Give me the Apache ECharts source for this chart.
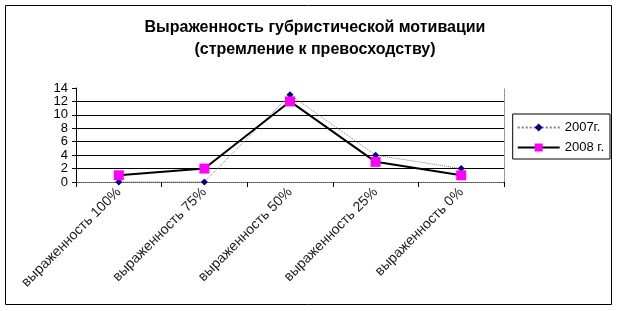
<!DOCTYPE html>
<html><head><meta charset="utf-8">
<script src="https://cdn.jsdelivr.net/npm/echarts@6/dist/echarts.min.js"></script>
<style>html,body{margin:0;padding:0;background:#fff}#c{width:618px;height:311px}</style>
</head><body><div id="c"></div>
<script>
const categories = ['выраженность 100%','выраженность 75%','выраженность 50%','выраженность 25%','выраженность 0%'];
const s2007 = [0, 0, 13, 4, 2];
const s2008 = [1, 2, 12, 3, 1];
const titleText = 'Выраженность губристической мотивации\n(стремление к превосходству)';

const chart = echarts.init(document.getElementById('c'));
chart.setOption({
  animation: false,
  backgroundColor: '#fff',
  title: {
    text: titleText, left: 310, top: 12, textAlign: 'center',
    textStyle: {fontFamily: 'Liberation Sans, Arial', fontSize: 16, fontWeight: 'bold', color: '#000', lineHeight: 22}
  },
  graphic: [{type:'rect', shape:{x:5.5,y:5.5,width:606,height:299}, style:{fill:'none', stroke:'#000', lineWidth:1}, z:-1}],
  legend: {
    right: 8, top: 114, orient: 'vertical', itemWidth: 42, itemHeight: 10, itemGap: 7,
    padding: [7, 6, 5, 4], borderColor: '#000', borderWidth: 1,
    textStyle: {fontFamily: 'Liberation Sans, Arial', fontSize: 13, color: '#000'},
    data: ['2007г.', '2008 г.']
  },
  grid: {left: 76, right: 114, top: 88, bottom: 129},
  xAxis: [{
    type: 'category', data: categories, boundaryGap: true,
    axisLine: {lineStyle: {color: '#000', width: 1}},
    axisTick: {show: true, length: 5, lineStyle: {color: '#000'}},
    axisLabel: {rotate: 45, fontFamily: 'Liberation Sans, Arial', fontSize: 14, color: '#1a1a1a', margin: 8}
  }, {
    type: 'category', data: categories, position: 'top',
    axisLine: {show: true, lineStyle: {color: '#808080', type: 'dotted'}},
    axisTick: {show: false}, axisLabel: {show: false}
  }],
  yAxis: [{
    type: 'value', min: 0, max: 14, interval: 2,
    axisLine: {show: true, lineStyle: {color: '#000'}},
    axisTick: {show: true, length: 4, lineStyle: {color: '#000'}},
    axisLabel: {fontFamily: 'Liberation Sans, Arial', fontSize: 13, color: '#000', margin: 8},
    splitLine: {show: true, showMaxLine: false, lineStyle: {color: '#000', width: 1}}
  }, {
    type: 'value', min: 0, max: 14, interval: 2, position: 'right',
    axisLine: {show: true, lineStyle: {color: '#808080', type: 'dotted'}},
    axisTick: {show: false}, axisLabel: {show: false}, splitLine: {show: false}
  }],
  series: [{
    name: '2007г.', type: 'line', data: s2007,
    symbol: 'diamond', symbolSize: 7,
    itemStyle: {color: '#000080'},
    lineStyle: {color: '#808080', width: 1, type: 'dotted'},
    z: 3
  }, {
    name: '2008 г.', type: 'line', data: s2008,
    symbol: 'rect', symbolSize: 10,
    itemStyle: {color: '#ff00ff'},
    lineStyle: {color: '#000', width: 2, type: 'solid'},
    z: 4
  }]
});
</script></body></html>
